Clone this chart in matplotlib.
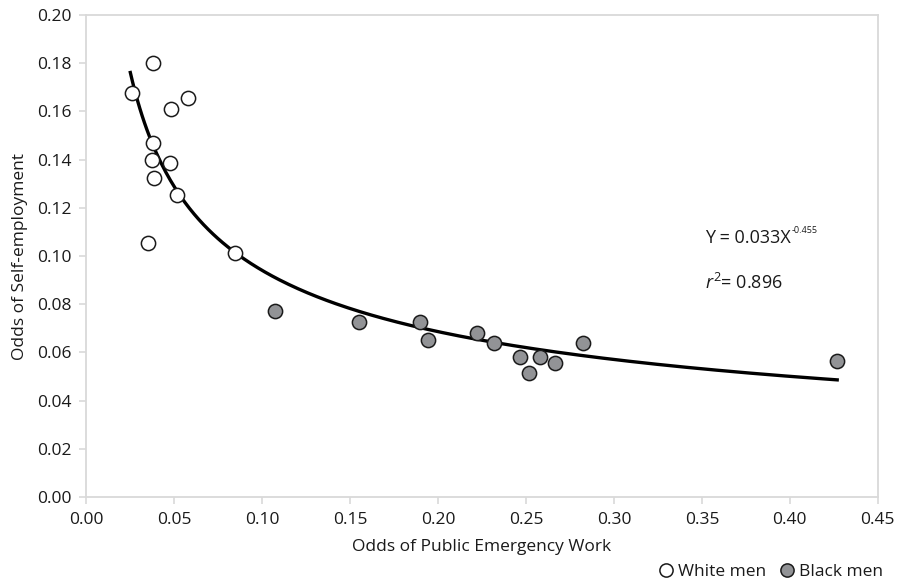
import numpy as np
import matplotlib
matplotlib.use("Agg")
from matplotlib import pyplot as plt
from matplotlib.lines import Line2D

plt.rcParams['font.family'] = ['Open Sans', 'DejaVu Sans']
plt.rcParams['mathtext.fontset'] = 'custom'
plt.rcParams['mathtext.rm'] = 'Open Sans'
plt.rcParams['mathtext.it'] = 'Open Sans:italic'

# odds of public emergency work (x) vs odds of self-employment (y)
white_x = [0.0383, 0.0260, 0.0581, 0.0483, 0.0383, 0.0373, 0.0477, 0.0388, 0.0515, 0.0354, 0.0847]
white_y = [0.1800, 0.1678, 0.1657, 0.1609, 0.1470, 0.1398, 0.1387, 0.1324, 0.1253, 0.1053, 0.1011]
black_x = [0.1075, 0.1553, 0.1900, 0.1945, 0.2220, 0.2320, 0.2466, 0.2580, 0.2519, 0.2665, 0.2822, 0.4269]
black_y = [0.0772, 0.0727, 0.0727, 0.0651, 0.0682, 0.0638, 0.0582, 0.0582, 0.0516, 0.0555, 0.0638, 0.0564]

# power trend line Y = a * X^b
fit_a = 0.033
fit_b = -0.455

frame = '#d9d9d9'
txt = '#1a1a1a'
fs = 12.5

fig = plt.figure(figsize=(9.05, 5.87), dpi=100)
ax = fig.add_axes([0.095, 0.1533, 0.875, 0.8211])

all_x = np.array(white_x + black_x)
xs = np.linspace(all_x.min() - 0.0008, all_x.max(), 300)
ax.plot(xs, fit_a * xs ** fit_b, color='black', lw=2.4, zorder=2)

ax.scatter(white_x, white_y, s=105, facecolor='white', edgecolor='#1a1a1a', linewidth=1.1, zorder=3)
ax.scatter(black_x, black_y, s=105, facecolor='#929396', edgecolor='#1a1a1a', linewidth=1.1, zorder=3)

ax.set_xlim(0, 0.45)
ax.set_ylim(0, 0.20)
ax.set_xticks(np.arange(0, 0.451, 0.05))
ax.set_yticks(np.arange(0, 0.201, 0.02))
ax.xaxis.set_major_formatter(plt.FormatStrFormatter('%.2f'))
ax.yaxis.set_major_formatter(plt.FormatStrFormatter('%.2f'))
for s in ax.spines.values():
    s.set_color(frame)
    s.set_linewidth(1.3)
ax.tick_params(colors=frame, labelcolor=txt, labelsize=fs, length=5, width=1.2)
ax.tick_params(axis='x', pad=6)
ax.tick_params(axis='y', pad=5)

ax.set_xlabel('Odds of Public Emergency Work', fontsize=fs, color=txt, labelpad=8)
ax.set_ylabel('Odds of Self-employment', fontsize=fs, color=txt, labelpad=7)

eq = ax.text(0.352, 0.1075, 'Y = 0.033X', fontsize=13, color=txt, va='center')
fig.canvas.draw()
bb = eq.get_window_extent()
fig.text(bb.x1 / fig.bbox.width, (bb.y1 - 2) / fig.bbox.height, '-0.455', fontsize=6.5, color=txt, va='center')
ax.text(0.352, 0.0888, r'$r^{2}$= 0.896', fontsize=13, color=txt, va='center')

handles = [
    Line2D([], [], ls='none', marker='o', ms=9.5, mfc='white', mec='#1a1a1a', mew=1.1),
    Line2D([], [], ls='none', marker='o', ms=9.5, mfc='#929396', mec='#1a1a1a', mew=1.1),
]
fig.legend(handles, ['White men', 'Black men'], loc='lower right', bbox_to_anchor=(0.993, -0.014),
           ncol=2, frameon=False, fontsize=fs, handletextpad=0.1, columnspacing=0.6,
           handlelength=1.2, labelcolor=txt)

fig.savefig('out.png', dpi=100)
